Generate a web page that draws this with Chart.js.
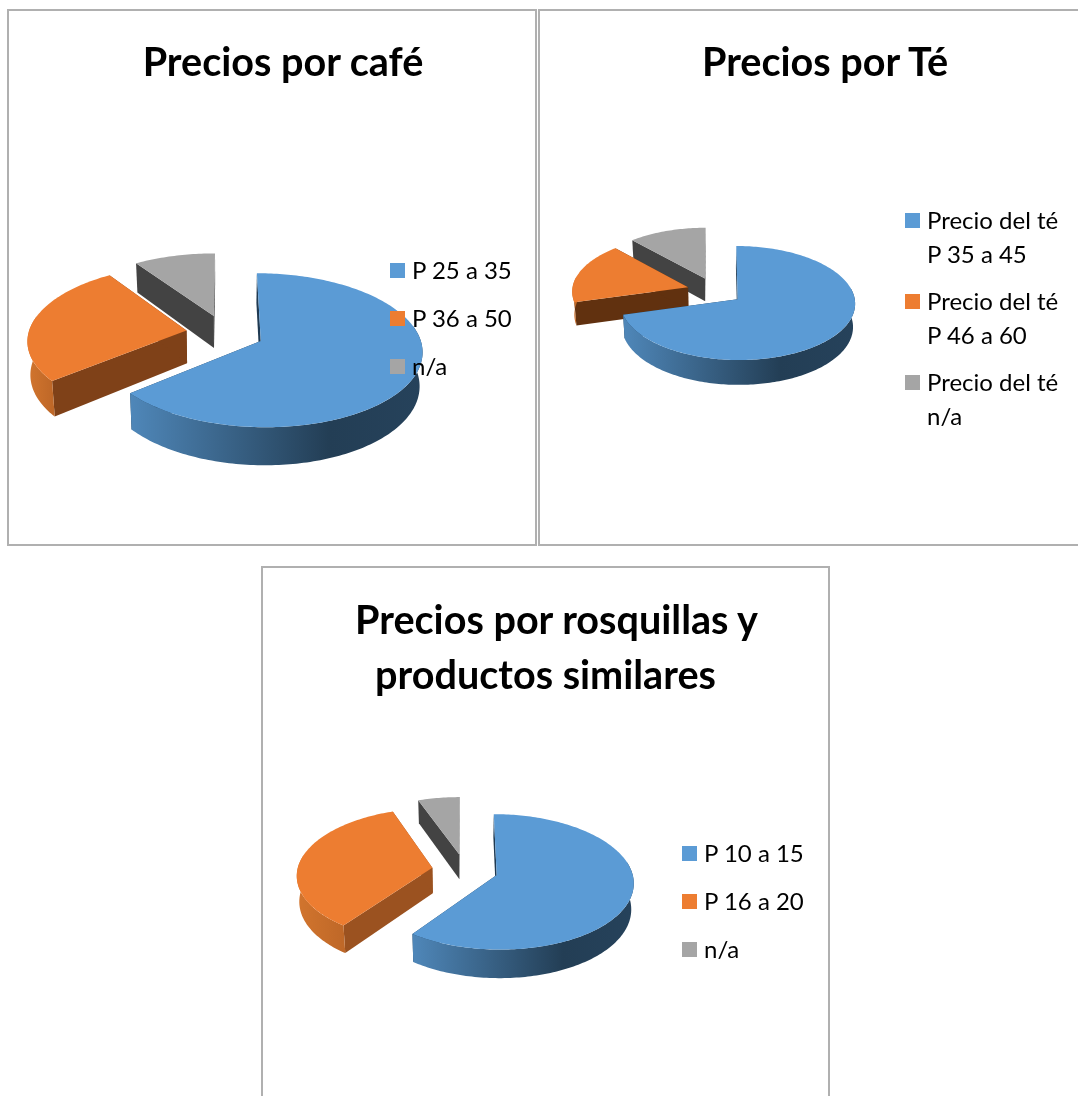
<!DOCTYPE html>
<html lang="es">
<head>
<meta charset="utf-8">
<title>Precios</title>
<script src="https://cdn.jsdelivr.net/npm/chart.js@4/dist/chart.umd.min.js"></script>
<style>
  html, body { margin: 0; background: #fff; }
  #page { position: relative; width: 1078px; height: 1096px; overflow: hidden; font-family: Lato, sans-serif; color: #000; }
  .box { position: absolute; box-sizing: border-box; border: 2px solid #b0b0b0; }
  .box canvas { position: absolute; left: -2px; top: -2px; }
  .title { position: absolute; font-size: 39.6px; font-weight: 700; line-height: 55px; white-space: nowrap; transform: translateX(-50%); }
  .legend { position: absolute; font-size: 24px; line-height: 34px; }
  .legend div { position: relative; padding-left: 22px; margin-bottom: 14px; }
  .legend.wrapped div { margin-bottom: 13px; }
  .legend i { position: absolute; left: 0; top: 10px; width: 15px; height: 15px; }
</style>
</head>
<body>
<div id="page"></div>
<script>
const sliceColors = ["#5b9bd5", "#ed7d31", "#a5a5a5"];

const cafeTitle = ["Precios por café"];
const cafeLabels = ["P 25 a 35", "P 36 a 50", "n/a"];
const cafeValues = [64, 26.5, 9.5];

const teTitle = ["Precios por Té"];
const teLabels = ["Precio del té P 35 a 45", "Precio del té P 46 a 60", "Precio del té n/a"];
const teValues = [70.7, 17.6, 11.7];

const rosquillasTitle = ["Precios por rosquillas y", "productos similares"];
const rosquillasLabels = ["P 10 a 15", "P 16 a 20", "n/a"];
const rosquillasValues = [60, 34.4, 5.6];

// Side walls, lit from the left: [gradient stop, colour]
const wallShades = [
  [[0, "#4f87b9"], [0.68, "#233e55"], [1, "#26425b"]],
  [[0, "#d2752e"], [1, "#bf6828"]],
  [[0, "#7c7c7c"], [1, "#6c6c6c"]],
];

// Pie with tilt, perspective, exploded slices and a solid edge.
class Pie3dController extends Chart.PieController {
  static id = "pie3d";

  toScreen(arc, u, v, lower) {
    const look = this.getDataset().look;
    const w = 1 - look.perspective * v;
    const shrink = lower ? look.wallShrink : 1;
    return {
      x: arc.x + (arc.outerRadius * u * shrink) / w,
      y: arc.y + (arc.outerRadius * look.tilt * v) / w + (lower ? look.depth / w : 0),
    };
  }

  // points along the rim of one slice, pushed out along its middle angle
  rim(arc, from, to, lower) {
    const look = this.getDataset().look;
    const mid = (arc.startAngle + arc.endAngle) / 2;
    const ox = Math.cos(mid) * look.explode;
    const oy = Math.sin(mid) * look.explode;
    const steps = Math.max(2, Math.ceil((to - from) / 0.02));
    const pts = [];
    for (let i = 0; i <= steps; i++) {
      const a = from + ((to - from) * i) / steps;
      pts.push(this.toScreen(arc, ox + Math.cos(a), oy + Math.sin(a), lower));
    }
    return pts;
  }

  apex(arc, lower) {
    const look = this.getDataset().look;
    const mid = (arc.startAngle + arc.endAngle) / 2;
    return this.toScreen(arc, Math.cos(mid) * look.explode, Math.sin(mid) * look.explode, lower);
  }

  fillPoly(ctx, pts, fill) {
    ctx.beginPath();
    pts.forEach((p, i) => (i ? ctx.lineTo(p.x, p.y) : ctx.moveTo(p.x, p.y)));
    ctx.closePath();
    ctx.fillStyle = fill;
    ctx.fill();
  }

  drawSlice(ctx, arc, i) {
    const look = this.getDataset().look;
    const { startAngle, endAngle } = arc;
    const cut = look.cutColors[i];

    // the two straight cut faces
    [startAngle, endAngle].forEach((a) => {
      const top = this.rim(arc, a, a + 1e-6, false)[0];
      const low = this.rim(arc, a, a + 1e-6, true)[0];
      this.fillPoly(ctx, [this.apex(arc, false), top, low, this.apex(arc, true)], cut);
    });

    // curved outer wall, front half only
    const from = Math.max(startAngle, -0.2);
    const to = Math.min(endAngle, Math.PI + 0.2);
    if (to > from) {
      const upper = this.rim(arc, from, to, false);
      const lower = this.rim(arc, from, to, true);
      const xs = upper.map((p) => p.x);
      const grad = ctx.createLinearGradient(Math.min(...xs), 0, Math.max(...xs), 0);
      wallShades[i].forEach(([stop, color]) => grad.addColorStop(stop, color));
      this.fillPoly(ctx, upper.concat(lower.reverse()), grad);
    }

    // top face
    const face = [this.apex(arc, false)].concat(this.rim(arc, startAngle, endAngle, false));
    this.fillPoly(ctx, face, arc.options.backgroundColor);
  }

  draw() {
    const ctx = this.chart.ctx;
    const arcs = this.getMeta().data;
    ctx.save();
    for (let i = arcs.length - 1; i >= 0; i--) this.drawSlice(ctx, arcs[i], i);
    ctx.restore();
  }
}
Chart.register(Pie3dController);

function addChart(page, spec) {
  const { box, center, radius, labels, values, look, title, titleCenters, titleY, legendAt } = spec;
  const el = document.createElement("div");
  el.className = "box";
  el.style.cssText = `left:${box.x}px;top:${box.y}px;width:${box.w}px;height:${box.h}px`;
  page.appendChild(el);

  const canvas = document.createElement("canvas");
  canvas.width = box.w;
  canvas.height = box.h;
  el.appendChild(canvas);

  const chart = new Chart(canvas.getContext("2d"), {
    type: "pie3d",
    data: {
      labels,
      datasets: [{ data: values, backgroundColor: sliceColors, borderWidth: 0, look }],
    },
    options: {
      responsive: false,
      animation: false,
      cutout: 0,
      layout: {
        padding: {
          left: center.x - box.x - radius,
          right: box.x + box.w - center.x - radius,
          top: center.y - box.y - radius,
          bottom: box.y + box.h - center.y - radius,
        },
      },
      plugins: { legend: { display: false }, tooltip: { enabled: false } },
    },
  });

  title.forEach((line, i) => {
    const t = document.createElement("div");
    t.className = "title";
    t.textContent = line;
    t.style.left = titleCenters[i] + "px";
    t.style.top = titleY + i * 55 + "px";
    page.appendChild(t);
  });

  const legend = document.createElement("div");
  legend.className = legendAt.wrapped ? "legend wrapped" : "legend";
  legend.style.cssText = `left:${legendAt.x}px;top:${legendAt.y}px;width:${legendAt.w}px`;
  chart.data.labels.forEach((label, i) => {
    const row = document.createElement("div");
    const mark = document.createElement("i");
    mark.style.background = sliceColors[i];
    row.appendChild(mark);
    row.appendChild(document.createTextNode(label));
    legend.appendChild(row);
  });
  page.appendChild(legend);
}

const page = document.getElementById("page");

addChart(page, {
  box: { x: 7, y: 9, w: 530, h: 537 },
  center: { x: 225, y: 333 },
  radius: 158,
  labels: cafeLabels,
  values: cafeValues,
  look: { tilt: 0.468, perspective: 0.12, explode: 0.247, depth: 33, wallShrink: 0.985, cutColors: ["#1f3a52", "#7f4118", "#434343"] },
  title: cafeTitle,
  titleCenters: [283],
  titleY: 33,
  legendAt: { x: 390, y: 253, w: 140 },
});

addChart(page, {
  box: { x: 538, y: 9, w: 546, h: 537 },
  center: { x: 715, y: 291 },
  radius: 116,
  labels: teLabels,
  values: teValues,
  look: { tilt: 0.48, perspective: 0.065, explode: 0.243, depth: 23, wallShrink: 0.985, cutColors: ["#1f3a52", "#61310f", "#434343"] },
  title: teTitle,
  titleCenters: [825],
  titleY: 33,
  legendAt: { x: 905, y: 203, w: 160, wrapped: true },
});

addChart(page, {
  box: { x: 261, y: 566, w: 569, h: 536 },
  center: { x: 465, y: 870 },
  radius: 135,
  labels: rosquillasLabels,
  values: rosquillasValues,
  look: { tilt: 0.489, perspective: 0.1, explode: 0.245, depth: 25.5, wallShrink: 0.985, cutColors: ["#1f3a52", "#9b5220", "#434343"] },
  title: rosquillasTitle,
  titleCenters: [556.5, 545.5],
  titleY: 591,
  legendAt: { x: 682, y: 836, w: 140 },
});
</script>
</body>
</html>
